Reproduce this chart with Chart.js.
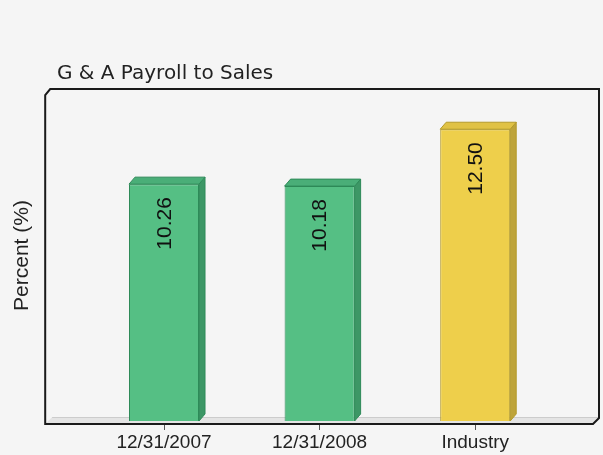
<!DOCTYPE html>
<html>
<head>
<meta charset="utf-8">
<title>G &amp; A Payroll to Sales</title>
<script src="https://cdn.jsdelivr.net/npm/chart.js@4/dist/chart.umd.min.js"></script>
<style>
  html, body { margin: 0; padding: 0; background: #f5f5f5; }
  #payrollChart { display: block; }
</style>
</head>
<body>
<canvas id="payrollChart" width="603" height="455"></canvas>
<script>
const chartTitle = "G & A Payroll to Sales";
const categories = ["12/31/2007", "12/31/2008", "Industry"];
const payrollPct = [10.26, 10.18, 12.50];

// front / side / top / edge colours per bar
const frontColors = ["#55bf84", "#55bf84", "#eecf4b"];
const sideColors = ["#3d9766", "#3d9766", "#bea43a"];
const topColors = ["#4aae78", "#4aae78", "#e0c245"];
const edgeColors = ["#2e8a58", "#2e8a58", "#b39a2a"];

const DEPTH_X = 6, DEPTH_Y = 7;

function poly(ctx, pts, fill, stroke) {
    ctx.beginPath();
    ctx.moveTo(pts[0][0], pts[0][1]);
    for (let i = 1; i < pts.length; i++) ctx.lineTo(pts[i][0], pts[i][1]);
    ctx.closePath();
    ctx.fillStyle = fill;
    ctx.fill();
    if (stroke) {
        ctx.strokeStyle = stroke;
        ctx.lineWidth = 1;
        ctx.stroke();
    }
}

const bar3d = {
    id: "bar3d",
    beforeDatasetsDraw(chart) {
        const ctx = chart.ctx;
        const a = chart.chartArea;
        const L = a.left - 41, T = a.top - 1, R = a.right + 46, B = a.bottom + 3;
        ctx.save();
        // floor strip
        poly(ctx, [[L + 1, B - 1], [L + 7, B - 7], [R - 1, B - 7], [R - 6, B - 1]], "#e4e4e4");
        ctx.strokeStyle = "#cccccc";
        ctx.lineWidth = 1;
        ctx.beginPath();
        ctx.moveTo(L + 7, B - 6.5);
        ctx.lineTo(R - 1, B - 6.5);
        ctx.stroke();
        // panel outline with chamfered corners
        ctx.strokeStyle = "#1a1a1a";
        ctx.lineWidth = 2;
        ctx.beginPath();
        ctx.moveTo(L, B);
        ctx.lineTo(L, T + 6);
        ctx.lineTo(L + 5, T);
        ctx.lineTo(R, T);
        ctx.lineTo(R, B - 6);
        ctx.lineTo(R - 6, B);
        ctx.closePath();
        ctx.stroke();
        ctx.restore();
    },
    afterDatasetsDraw(chart) {
        const ctx = chart.ctx;
        const a = chart.chartArea;
        const bars = chart.getDatasetMeta(0).data;
        ctx.save();
        bars.forEach((bar, i) => {
            const p = bar.getProps(["x", "y", "base", "width"], true);
            const l = p.x - p.width / 2, r = p.x + p.width / 2;
            const base = Math.min(p.base, a.bottom);
            poly(ctx, [[r, p.y], [r + DEPTH_X, p.y - DEPTH_Y], [r + DEPTH_X, base - DEPTH_Y], [r, base]],
                sideColors[i], edgeColors[i]);
            poly(ctx, [[l, p.y], [l + DEPTH_X, p.y - DEPTH_Y], [r + DEPTH_X, p.y - DEPTH_Y], [r, p.y]],
                topColors[i], edgeColors[i]);

            // value label, rotated, at the top of the bar
            ctx.save();
            ctx.translate(p.x + 1, p.y + 13);
            ctx.rotate(-Math.PI / 2);
            ctx.font = "21px 'Liberation Sans', Arial, sans-serif";
            ctx.fillStyle = "#111";
            ctx.textAlign = "right";
            ctx.textBaseline = "middle";
            ctx.fillText(payrollPct[i].toFixed(2), 0, 0);
            ctx.restore();
        });

        // chart heading
        ctx.font = "20px 'DejaVu Sans', sans-serif";
        ctx.fillStyle = "#222";
        ctx.textAlign = "left";
        ctx.textBaseline = "alphabetic";
        ctx.fillText(chartTitle, 57, 79);
        ctx.restore();
    }
};

new Chart(document.getElementById("payrollChart").getContext("2d"), {
    type: "bar",
    data: {
        labels: categories,
        datasets: [{
            data: payrollPct,
            backgroundColor: frontColors,
            borderColor: edgeColors,
            borderWidth: 1,
            barPercentage: 0.45,
            categoryPercentage: 1
        }]
    },
    options: {
        responsive: false,
        animation: false,
        layout: { padding: { left: 6, right: 50, top: 90, bottom: 0 } },
        plugins: {
            legend: { display: false },
            tooltip: { enabled: false }
        },
        scales: {
            x: {
                border: { display: false },
                grid: { display: true, drawOnChartArea: false, offset: false, tickLength: 9, color: "#555" },
                ticks: {
                    color: "#222",
                    padding: 3,
                    maxRotation: 0,
                    font: { family: "'Liberation Sans', Arial, sans-serif", size: 19, lineHeight: 1.0 }
                }
            },
            y: {
                min: 0.6,
                max: 14.1,
                border: { display: false },
                grid: { display: false, drawTicks: false },
                ticks: { display: false },
                title: {
                    display: true,
                    text: "Percent (%)",
                    color: "#222",
                    padding: { top: 4, bottom: 51 },
                    font: { family: "'Liberation Sans', Arial, sans-serif", size: 21 }
                }
            }
        }
    },
    plugins: [bar3d]
});
</script>
</body>
</html>
